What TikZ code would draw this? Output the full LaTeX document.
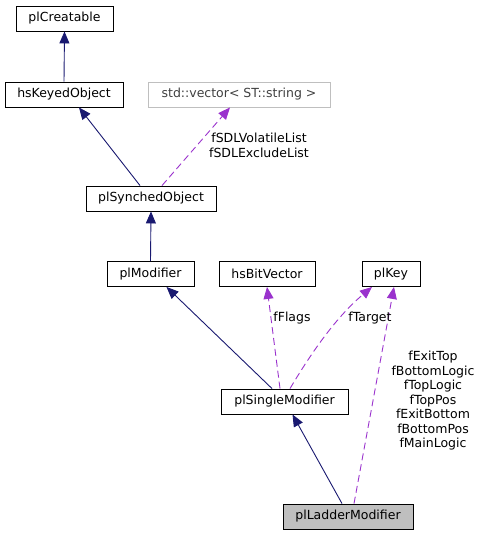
\documentclass[tikz,border=0pt]{standalone}
\usepackage{fontspec}
\setmainfont{DejaVu Sans}
\usetikzlibrary{arrows.meta}
\definecolor{inh}{HTML}{191970}
\definecolor{use}{HTML}{9A32CD}
\definecolor{grayb}{HTML}{BFBFBF}
\begin{document}
\begin{tikzpicture}[x=1pt,y=-1pt,
  cls/.style={draw=black,line width=0.9pt,inner sep=0pt,font=\fontsize{12.5}{14.5}\selectfont,text=black,minimum height=25pt},
  inherit/.style={draw=inh,line width=0.9pt,-{Triangle[length=12pt,width=10pt]},color=inh},
  usage/.style={draw=use,line width=0.9pt,dash pattern=on 7pt off 4pt,-{Triangle[length=12pt,width=10pt]},color=use},
  lbl/.style={font=\fontsize{12.5}{14.5}\selectfont,align=center,text=black,inner sep=0pt}]
\useasboundingbox (0,0) rectangle (483,535);
\node[cls,minimum width=97pt] (cre) at (64.5,18.5) {plCreatable};
\node[cls,minimum width=118pt] (hko) at (64,94.5) {hsKeyedObject};
\node[cls,draw=grayb,minimum width=182pt,text=black!75] (vec) at (239,94.5) {std::vector< ST::string >};
\node[cls,minimum width=130pt] (syn) at (151,198.5) {plSynchedObject};
\node[cls,minimum width=87pt] (mod) at (150.5,274) {plModifier};
\node[cls,minimum width=96pt] (bit) at (267,274) {hsBitVector};
\node[cls,minimum width=58pt] (key) at (391,274) {plKey};
\node[cls,minimum width=127pt] (single) at (284.5,401.5) {plSingleModifier};
\node[cls,fill=grayb,minimum width=130pt] (ladder) at (348,516.5) {plLadderModifier};

\draw[inherit] (hko.north) -- (cre.south);
\draw[inherit] ([xshift=-11pt]syn.north) -- ([xshift=15pt]hko.south);
\draw[usage] ([xshift=11pt]syn.north) -- ([xshift=-9pt]vec.south);
\draw[inherit] (mod.north) -- (syn.south);
\draw[inherit] ([xshift=-12.5pt]single.north) -- ([xshift=16pt]mod.south);
\draw[usage] ([xshift=-4.5pt]single.north) -- (bit.south);
\draw[usage] ([xshift=5.5pt]single.north) .. controls (310,355) and (335,318) .. ([xshift=-19pt]key.south);
\draw[usage] ([xshift=6pt]ladder.north) -- ([xshift=3pt]key.south);
\draw[inherit] ([xshift=-6pt]ladder.north) -- ([xshift=8pt]single.south);

\node[lbl] (l1) at (259,145.5) {fSDLVolatileList\\fSDLExcludeList};
\node[lbl] (l2) at (292,318) {fFlags};
\node[lbl] (l3) at (370,318) {fTarget};
\node[lbl] (l4) at (433,401) {fExitTop\\fBottomLogic\\fTopLogic\\fTopPos\\fExitBottom\\fBottomPos\\fMainLogic};
\end{tikzpicture}
\end{document}
